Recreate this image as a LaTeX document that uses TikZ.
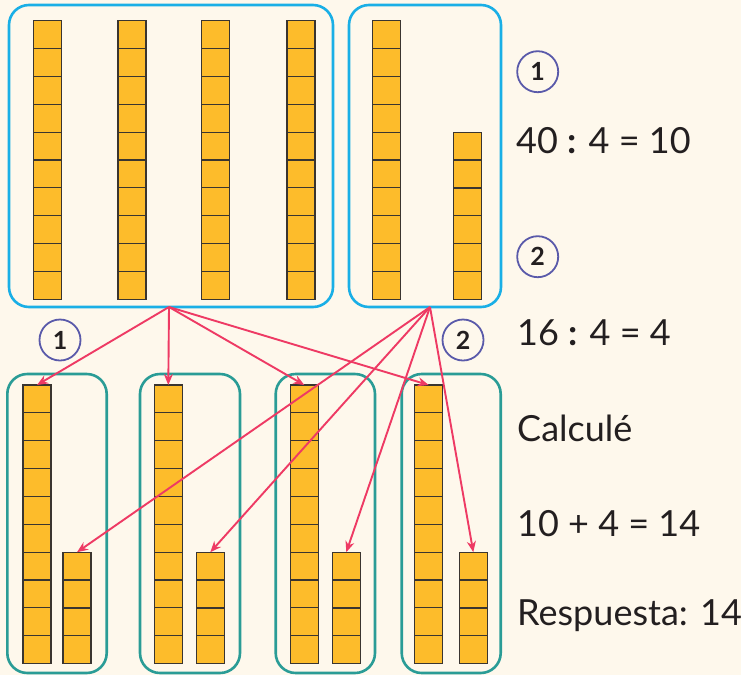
\documentclass[tikz,border=0pt]{standalone}
\usepackage{fontspec}
\setmainfont{Lato}
\usetikzlibrary{arrows.meta}
\definecolor{bg}{HTML}{FEF8EC}
\definecolor{blockfill}{HTML}{FDBC2B}
\definecolor{cellline}{HTML}{3A3530}
\definecolor{topblue}{HTML}{1AAFE6}
\definecolor{teal}{HTML}{2A9C96}
\definecolor{arrred}{HTML}{EE3A64}
\definecolor{circ}{HTML}{5A5AAA}
\definecolor{txt}{HTML}{231F20}
\newcommand\blockcol[4]{%
  \foreach \i in {1,...,#4} \draw[cell] (#2, {#3+(\i-1)*27.86}) rectangle ++(28, 27.86);
  \node[colnode, minimum height=#4*27.86pt] (#1) at (#2+14, {#3+#4*13.93}) {};
}
\begin{document}
\begin{tikzpicture}[x=1pt,y=-1pt,
  cell/.style={fill=blockfill, draw=cellline, line width=1.2pt},
  colnode/.style={draw=none, minimum width=28pt, inner sep=0pt, outer sep=0pt},
  topbox/.style={draw=topblue, line width=2.6pt, rounded corners=20pt, inner sep=0pt},
  botbox/.style={draw=teal, line width=2.6pt, rounded corners=20pt, inner sep=0pt},
  arr/.style={draw=arrred, line width=1.9pt, -{Stealth[length=11pt,width=9pt]}},
  numcirc/.style={circle, draw=circ, line width=1.8pt, minimum size=41pt, inner sep=0pt, font=\fontsize{25}{25}\selectfont\bfseries, text=txt},
  eq/.style={anchor=base west, inner sep=0pt, font=\fontsize{36}{40}\selectfont, text=txt}]
\fill[bg] (0,0) rectangle (741,675);
\useasboundingbox (0,0) rectangle (741,675);
% boxes
\node[topbox, minimum width=324pt, minimum height=302pt] (T1) at (171,156) {};
\node[topbox, minimum width=152pt, minimum height=302pt] (T2) at (425,156) {};
\node[botbox, minimum width=99.4pt, minimum height=299pt] (B1) at (57,523.5) {};
\node[botbox, minimum width=100pt, minimum height=299pt] (B2) at (190,523.5) {};
\node[botbox, minimum width=99.3pt, minimum height=299pt] (B3) at (325.35,523.5) {};
\node[botbox, minimum width=99pt, minimum height=299pt] (B4) at (451.2,523.5) {};
% top columns
\blockcol{TA}{33.3}{20.7}{10}
\blockcol{TB}{118}{20.7}{10}
\blockcol{TC}{201.7}{20.7}{10}
\blockcol{TD}{287}{20.7}{10}
\blockcol{TE}{372.3}{20.7}{10}
\blockcol{TF}{453.3}{132.2}{6}
% bottom columns
\blockcol{L1}{23}{385}{10}
\blockcol{S1}{63}{552.2}{4}
\blockcol{L2}{154.3}{385}{10}
\blockcol{S2}{196.3}{552.2}{4}
\blockcol{L3}{290.3}{385}{10}
\blockcol{S3}{332.3}{552.2}{4}
\blockcol{L4}{414.7}{385}{10}
\blockcol{S4}{459.3}{552.2}{4}
% sources
\coordinate (src1) at (169,307);
\coordinate (src2) at (430,307);
% arrows
\draw[arr] (src1) -- (L1.north);
\draw[arr] (src1) -- (L2.north);
\draw[arr] (src1) -- (L3.north);
\draw[arr] (src1) -- (L4.north);
\draw[arr] (src2) -- (S1.north);
\draw[arr] (src2) -- (S2.north);
\draw[arr] (src2) -- (S3.north);
\draw[arr] (src2) -- (S4.north);
% circled numbers
\node[numcirc] (c1l) at (60,340) {1};
\node[numcirc] (c2l) at (463,340) {2};
\node[numcirc] (c1r) at (537.7,71.7) {1};
\node[numcirc] (c2r) at (537.7,256.7) {2};
% equations
\node[eq] (e1) at (516,153) {40 \textbf{:} 4 = 10};
\node[eq] (e2) at (517,345) {16 \textbf{:} 4 = 4};
\node[eq] (e3) at (517,441.7) {Calculé};
\node[eq] (e4) at (517,536.7) {10 + 4 = 14};
\node[eq] (e5) at (517,625) {Respuesta: 14};
\end{tikzpicture}
\end{document}
